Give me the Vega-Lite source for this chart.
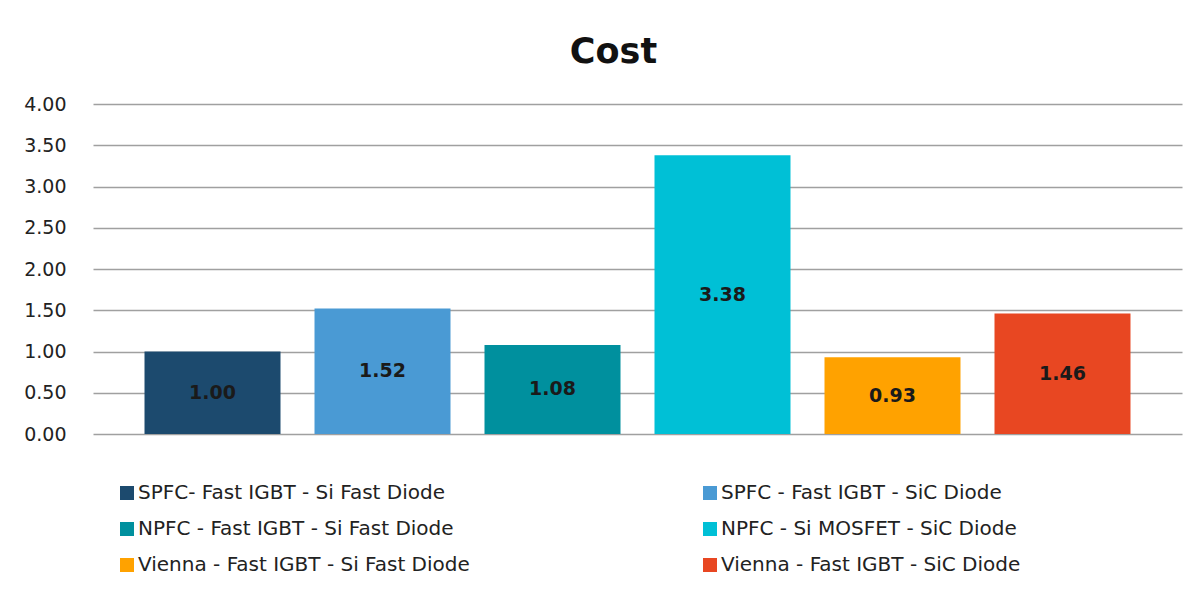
{
  "$schema": "https://vega.github.io/schema/vega-lite/v6.json",
  "width": 1089,
  "height": 330,
  "autosize": {"type": "none"},
  "padding": {"left": 93, "top": 104, "right": 18, "bottom": 162},
  "background": "white",
  "config": {"view": {"stroke": null}, "font": "DejaVu Sans"},
  "title": {"text": "Cost", "fontSize": 35, "fontWeight": "bold", "color": "#111111", "anchor": "middle", "dx": -24, "offset": 25, "font": "DejaVu Sans"},
  "data": {
    "values": [
      {"config": "SPFC- Fast IGBT - Si Fast Diode", "cost": 1.00},
      {"config": "SPFC - Fast IGBT - SiC Diode", "cost": 1.52},
      {"config": "NPFC - Fast IGBT - Si Fast Diode", "cost": 1.08},
      {"config": "NPFC - Si MOSFET - SiC Diode", "cost": 3.38},
      {"config": "Vienna - Fast IGBT - Si Fast Diode", "cost": 0.93},
      {"config": "Vienna - Fast IGBT - SiC Diode", "cost": 1.46}
    ]
  },
  "layer": [
    {
      "mark": {"type": "bar"},
      "encoding": {
        "x": {"field": "config", "type": "nominal", "sort": null, "scale": {"paddingInner": 0.2, "paddingOuter": 0.303}, "axis": null},
        "y": {
          "field": "cost", "type": "quantitative", "scale": {"domain": [0, 4]},
          "axis": {"values": [0, 0.5, 1, 1.5, 2, 2.5, 3, 3.5, 4], "format": ".2f", "domain": false, "ticks": false, "labelPadding": 27, "labelFontSize": 19, "labelColor": "#222222", "gridColor": "#a0a0a0", "gridWidth": 1.5, "title": null, "labelFont": "DejaVu Sans"}
        },
        "color": {
          "field": "config", "type": "nominal",
          "scale": {
            "domain": ["SPFC- Fast IGBT - Si Fast Diode", "NPFC - Fast IGBT - Si Fast Diode", "Vienna - Fast IGBT - Si Fast Diode", "SPFC - Fast IGBT - SiC Diode", "NPFC - Si MOSFET - SiC Diode", "Vienna - Fast IGBT - SiC Diode"],
            "range": ["#1c4a6e", "#00909e", "#ffa200", "#4a9ad4", "#00c0d6", "#e84722"]
          },
          "legend": {
            "orient": "none", "legendX": 24, "legendY": 379, "columns": 2, "columnPadding": 230, "rowPadding": 16, "direction": "vertical",
            "symbolType": "square", "symbolSize": 196, "symbolStrokeWidth": 0, "labelFontSize": 20, "labelColor": "#222222",
            "labelOffset": 1, "title": null, "labelLimit": 0, "padding": 0, "labelFont": "DejaVu Sans",
            "encode": {"symbols": {
              "enter": {"fill": {"signal": "datum.value === 'NPFC - Fast IGBT - Si Fast Diode' ? '#1c4a6e' : scale('color', datum.value)"}},
              "update": {"fill": {"signal": "datum.value === 'NPFC - Fast IGBT - Si Fast Diode' ? '#1c4a6e' : scale('color', datum.value)"}, "opacity": {"value": 1}}
            }}
          }
        }
      }
    },
    {
      "mark": {"type": "text", "fontWeight": "bold", "fontSize": 19, "color": "#1a1a1a", "baseline": "middle", "font": "DejaVu Sans"},
      "encoding": {
        "x": {"field": "config", "type": "nominal", "sort": null, "axis": null},
        "y": {"field": "cost", "type": "quantitative", "scale": {"domain": [0, 8]}, "axis": null},
        "text": {"field": "cost", "type": "quantitative", "format": ".2f"}
      }
    }
  ],
  "resolve": {"scale": {"y": "independent"}}
}
